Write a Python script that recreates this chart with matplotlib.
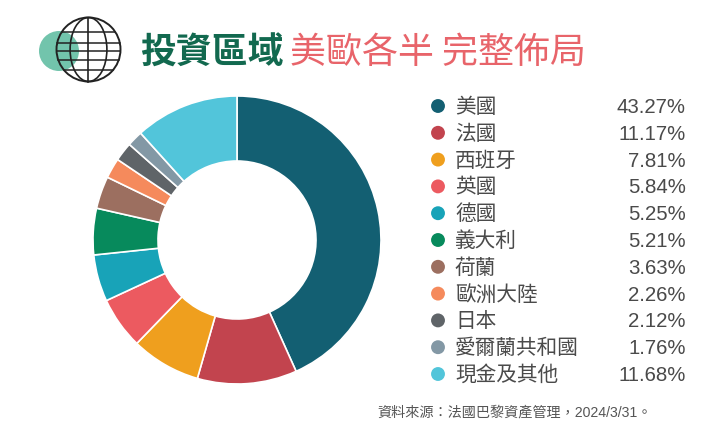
import numpy as np
import matplotlib
matplotlib.use("Agg")
import matplotlib.pyplot as plt
from matplotlib.patches import Circle, Ellipse

# data
labels = ["美國", "法國", "西班牙", "英國", "德國", "義大利", "荷蘭", "歐洲大陸", "日本", "愛爾蘭共和國", "現金及其他"]
values = [43.27, 11.17, 7.81, 5.84, 5.25, 5.21, 3.63, 2.26, 2.12, 1.76, 11.68]
colors = ["#135f72", "#c2444e", "#ef9f1e", "#ec5a60", "#18a3b8", "#078a5c",
          "#9c6f60", "#f58a5c", "#5f6468", "#8398a5", "#52c5da"]
title_green = "投資區域"
title_red = "美歐各半 完整佈局"
# full width colon and comma
source = "資料來源\uff1a法國巴黎資產管理\uff0c2024/3/31。"

W, H = 725, 446
CJK = ["Noto Sans CJK TC", "DejaVu Sans"]
LATIN = ["Liberation Sans", "Noto Sans CJK TC"]
plt.rcParams["font.family"] = CJK

fig = plt.figure(figsize=(W / 100, H / 100), dpi=100)

# full figure layer in pixel coords for the icon and text
bg = fig.add_axes([0, 0, 1, 1])
bg.set_xlim(0, W)
bg.set_ylim(H, 0)
bg.axis("off")

# globe icon
bg.add_patch(Circle((59, 51), 20, color="#72c4ac", lw=0))
gx, gy, gr = 88.5, 49.5, 32
bg.add_patch(Circle((gx, gy), gr, fill=False, ec="#222222", lw=1.4))
bg.add_patch(Ellipse((gx, gy), gr * 1.15, gr * 2, fill=False, ec="#222222", lw=1.2))
bg.plot([gx, gx], [gy - gr, gy + gr], color="#222222", lw=1.2)
for dy in (-18, -7, 1, 10, 20):
    hw = np.sqrt(gr ** 2 - dy ** 2)
    bg.plot([gx - hw, gx + hw], [gy + dy, gy + dy], color="#222222", lw=1.1)

# title
bg.text(140, 53.5, title_green, color="#12694f", fontsize=25.8, fontweight="bold", va="center", ha="left")
bg.text(290, 53.5, title_red, color="#e8646a", fontsize=25.9, va="center", ha="left")

# donut
cx, cy, R = 237, 240, 144
ax = fig.add_axes([(cx - R) / W, 1 - (cy + R) / H, 2 * R / W, 2 * R / H])
ax.pie(values, colors=colors, startangle=90, counterclock=False, radius=1,
       wedgeprops=dict(width=65 / 144, edgecolor="white", linewidth=1.2))
ax.set_xlim(-1, 1)
ax.set_ylim(-1, 1)

# legend rows
row_y = np.linspace(106, 374, len(labels))
bg.scatter([438] * len(labels), row_y, s=100, c=colors, linewidths=0)
for y, lab, v in zip(row_y, labels, values):
    bg.text(455, y + 1, lab, color="#4a4a4a", fontsize=14.9, va="center", ha="left")
    bg.text(686, y + 1.5, "%.2f%%" % v, color="#4a4a4a", fontsize=14.7, va="center", ha="right", family=LATIN)

# source note
bg.text(377, 412, source, color="#555555", fontsize=10.2, va="center", ha="left", family=LATIN)

fig.savefig("out.png", dpi=100)
